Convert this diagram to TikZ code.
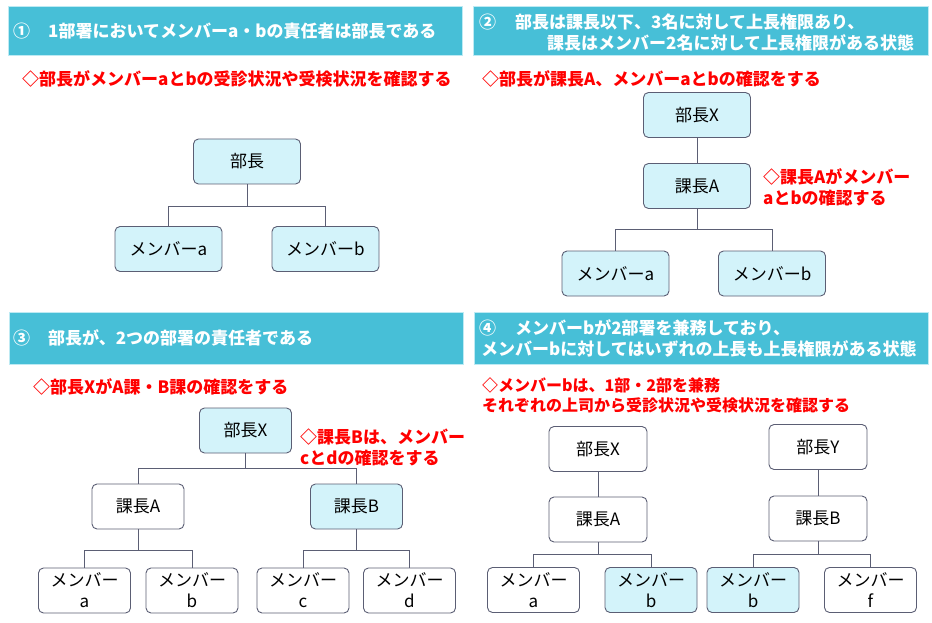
\documentclass[tikz,border=0pt]{standalone}
\usepackage{fontspec}
\setmainfont{Noto Sans CJK JP}
\definecolor{hdr}{HTML}{47BFD7}
\definecolor{hdredge}{HTML}{BDEAF3}
\definecolor{boxfill}{HTML}{D3F3FA}
\definecolor{linec}{HTML}{5B5E74}
\definecolor{notered}{HTML}{FF0000}
\begin{document}
\begin{tikzpicture}[x=1pt,y=-1pt,
  hdrbar/.style={fill=hdr,draw=hdredge,line width=0.8pt},
  hdrtext/.style={anchor=west,inner sep=0pt,text=white,align=left,font=\fontsize{17}{21}\selectfont\bfseries},
  notetext/.style={anchor=west,inner sep=0pt,text=notered,align=left,font=\fontsize{17}{20.5}\selectfont\bfseries},
  smallnote/.style={notetext,font=\fontsize{16}{20.5}\selectfont\bfseries},
  orgbox/.style={draw=linec,line width=0.9pt,rounded corners=5pt,fill=boxfill,inner sep=0pt,align=center,font=\fontsize{17}{21}\selectfont},
  whitebox/.style={orgbox,fill=white},
  wide/.style={minimum width=107pt,minimum height=45pt},
  narrow/.style={minimum width=92pt,minimum height=45pt},
  mid/.style={minimum width=98pt,minimum height=45pt},
  conn/.style={draw=linec,line width=0.9pt}]
\useasboundingbox (0,0) rectangle (932,623);
\fill[white] (0,0) rectangle (932,623);

% ---------- headers ----------
\draw[hdrbar] (8,6) rectangle (462,55);
\draw[hdrbar] (473,6) rectangle (928,55);
\draw[hdrbar] (9,312) rectangle (463,364);
\draw[hdrbar] (474,312) rectangle (928,364);

\node[hdrtext] (h1) at (13,31) {\makebox[35pt][l]{①}1部署においてメンバーa・bの責任者は部長である};
\node[hdrtext] (h2) at (479,32) {\makebox[36pt][l]{②}部長は課長以下、3名に対して上長権限あり、\\\hspace*{68pt}課長はメンバー2名に対して上長権限がある状態};
\node[hdrtext] (h3) at (13,338) {\makebox[35pt][l]{③}部長が、2つの部署の責任者である};
\node[hdrtext] (h4) at (479,338) {\makebox[36pt][l]{④}メンバーbが2部署を兼務しており、\\\hspace*{2pt}メンバーbに対してはいずれの上長も上長権限がある状態};

% ---------- notes ----------
\node[notetext] (n1) at (22,79) {◇部長がメンバーaとbの受診状況や受検状況を確認する};
\node[notetext] (n2) at (482,79) {◇部長が課長A、メンバーaとbの確認をする};
\node[notetext] (n2b) at (763,187.5) {◇課長Aがメンバー\\aとbの確認する};
\node[notetext] (n3) at (33,387) {◇部長XがA課・B課の確認をする};
\node[notetext] (n3b) at (300,447.5) {◇課長Bは、メンバー\\cとdの確認をする};
\node[smallnote] (n4) at (482,395.5) {◇メンバーbは、1部・2部を兼務\\それぞれの上司から受診状況や受検状況を確認する};

% ---------- panel 1 ----------
\node[orgbox,wide] (p1) at (247,161.5) {部長};
\node[orgbox,wide] (m1a) at (168.5,249) {メンバーa};
\node[orgbox,wide] (m1b) at (325.5,249) {メンバーb};
\coordinate (j1) at (247,206);
\draw[conn] (p1) -- (j1) -| (m1a);
\draw[conn] (j1) -| (m1b);

% ---------- panel 2 ----------
\node[orgbox,wide] (p2x) at (697,115) {部長X};
\node[orgbox,wide] (p2a) at (697,186) {課長A};
\node[orgbox,wide] (m2a) at (615.5,273.5) {メンバーa};
\node[orgbox,wide] (m2b) at (772,273.5) {メンバーb};
\coordinate (j2) at (697,229);
\draw[conn] (p2x) -- (p2a);
\draw[conn] (p2a) -- (j2) -| (m2a);
\draw[conn] (j2) -| (m2b);

% ---------- panel 3 ----------
\node[orgbox,narrow] (p3x) at (245.5,430.5) {部長X};
\node[whitebox,narrow] (p3a) at (138,506.5) {課長A};
\node[orgbox,narrow] (p3b) at (356.5,506.5) {課長B};
\node[whitebox,narrow] (m3a) at (84.5,590.5) {メンバー\\a};
\node[whitebox,narrow] (m3b) at (192,590.5) {メンバー\\b};
\node[whitebox,narrow] (m3c) at (303,590.5) {メンバー\\c};
\node[whitebox,narrow] (m3d) at (409.5,590.5) {メンバー\\d};
\coordinate (j3) at (245.5,468);
\coordinate (j3a) at (138,550);
\coordinate (j3b) at (356.5,550);
\draw[conn] (p3x) -- (j3) -| (p3a);
\draw[conn] (j3) -| (p3b);
\draw[conn] (p3a) -- (j3a) -| (m3a);
\draw[conn] (j3a) -| (m3b);
\draw[conn] (p3b) -- (j3b) -| (m3c);
\draw[conn] (j3b) -| (m3d);

% ---------- panel 4 ----------
\node[whitebox,mid] (p4x) at (598,449) {部長X};
\node[whitebox,mid] (p4a) at (598,519.5) {課長A};
\node[whitebox,narrow] (m4a) at (533.5,590) {メンバー\\a};
\node[orgbox,narrow] (m4b) at (651,590) {メンバー\\b};
\node[whitebox,mid] (p4y) at (818,447) {部長Y};
\node[whitebox,mid] (p4b) at (818,518.5) {課長B};
\node[orgbox,narrow] (m4c) at (753,590) {メンバー\\b};
\node[whitebox,narrow] (m4f) at (870.5,590) {メンバー\\f};
\coordinate (j4a) at (598,554);
\coordinate (j4b) at (818,554);
\draw[conn] (p4x) -- (p4a);
\draw[conn] (p4a) -- (j4a) -| (m4a);
\draw[conn] (j4a) -| (m4b);
\draw[conn] (p4y) -- (p4b);
\draw[conn] (p4b) -- (j4b) -| (m4c);
\draw[conn] (j4b) -| (m4f);
\end{tikzpicture}
\end{document}
